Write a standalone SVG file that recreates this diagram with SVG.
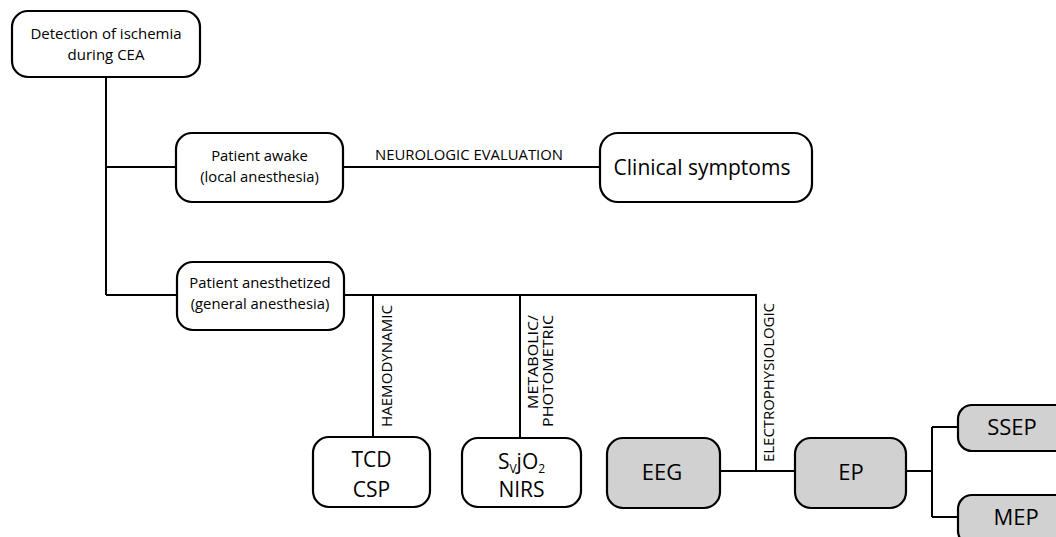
<svg xmlns="http://www.w3.org/2000/svg" width="1056" height="537" viewBox="0 0 1056 537">
<style>
.box{fill:#fff;stroke:#000;stroke-width:2.2}
.grey{fill:#d1d1d1;stroke:#000;stroke-width:2.2}
.ln{fill:none;stroke:#000;stroke-width:2}
text{font-family:"Open Sans","Liberation Sans",sans-serif;fill:#000;text-anchor:middle}
.s{font-size:14.8px}
.m{font-size:15px}
.xl{font-size:21px}
.l{font-size:21px}
.g{font-size:22px}
.lab{font-size:14.5px}
</style>
<g id="connectors">
<path class="ln" d="M106 77V295M106 167H176M343 167H600M106 295H177M344 295H756V471M720 471H795M373 295V437M520 295V438M906 471H932M932 427V517M932 427H958M932 517H958"/>
<text class="lab" x="469" y="160" textLength="188" lengthAdjust="spacingAndGlyphs">NEUROLOGIC EVALUATION</text>
<text class="lab" transform="translate(392 427) rotate(-90)" style="text-anchor:start" textLength="122" lengthAdjust="spacingAndGlyphs">HAEMODYNAMIC</text>
<text class="lab" transform="translate(538 409) rotate(-90)" style="text-anchor:start" textLength="94" lengthAdjust="spacingAndGlyphs">METABOLIC/</text>
<text class="lab" transform="translate(553 427) rotate(-90)" style="text-anchor:start" textLength="112" lengthAdjust="spacingAndGlyphs">PHOTOMETRIC</text>
<text class="lab" transform="translate(774 462) rotate(-90)" style="text-anchor:start" textLength="159" lengthAdjust="spacingAndGlyphs">ELECTROPHYSIOLOGIC</text>
</g>
<g id="detection">
<rect class="box" x="12" y="11" width="188" height="66" rx="16"/>
<text class="m" x="106" y="39">Detection of ischemia</text>
<text class="m" x="106" y="60">during CEA</text>
</g>
<g id="awake">
<rect class="box" x="176" y="133" width="167" height="69" rx="16"/>
<text class="s" x="259.5" y="161">Patient awake</text>
<text class="s" x="259.5" y="182">(local anesthesia)</text>
</g>
<g id="clinical">
<rect class="box" x="600" y="133" width="212" height="69" rx="18"/>
<text class="xl" x="702" y="175">Clinical symptoms</text>
</g>
<g id="anesthetized">
<rect class="box" x="177" y="262" width="167" height="68" rx="16"/>
<text class="s" x="260" y="288">Patient anesthetized</text>
<text class="s" x="260" y="309">(general anesthesia)</text>
</g>
<g id="tcd">
<rect class="box" x="313" y="437" width="117" height="70" rx="16"/>
<text class="l" x="371.5" y="467">TCD</text>
<text class="l" x="371.5" y="497">CSP</text>
</g>
<g id="svjo2">
<rect class="box" x="462" y="438" width="119" height="69" rx="16"/>
<text class="l" x="521.5" y="469">S<tspan font-size="12" dy="4">V</tspan><tspan dy="-4">jO</tspan><tspan font-size="12" dy="4">2</tspan></text>
<text class="l" x="521.5" y="497">NIRS</text>
</g>
<g id="eeg">
<rect class="grey" x="607" y="438" width="113" height="70" rx="16"/>
<text class="g" x="662" y="480">EEG</text>
</g>
<g id="ep">
<rect class="grey" x="795" y="438" width="111" height="70" rx="16"/>
<text class="g" x="851" y="480">EP</text>
</g>
<g id="ssep">
<rect class="grey" x="958" y="405" width="120" height="46" rx="14"/>
<text class="g" x="1012" y="435">SSEP</text>
</g>
<g id="mep">
<rect class="grey" x="958" y="495" width="120" height="50" rx="14"/>
<text class="g" x="1016" y="525">MEP</text>
</g>
</svg>
